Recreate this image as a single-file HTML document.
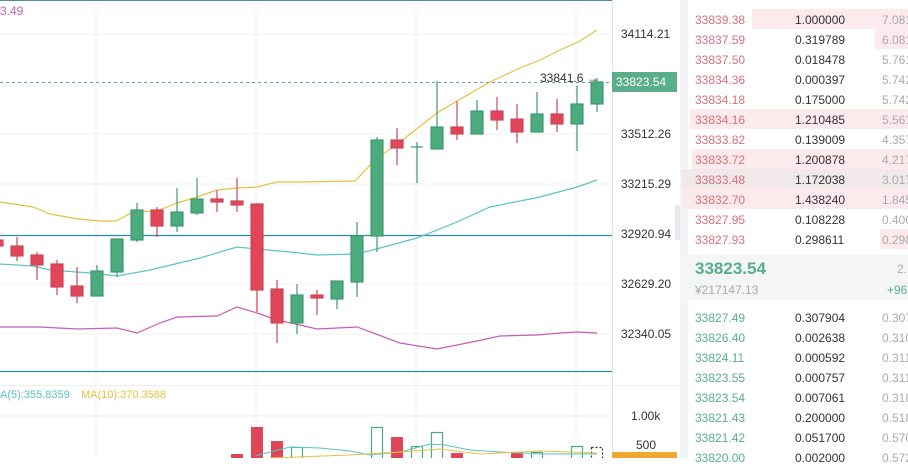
<!DOCTYPE html>
<html><head><meta charset="utf-8"><style>
body{margin:0;width:908px;height:458px;overflow:hidden;background:#fff;font-family:"Liberation Sans",sans-serif;position:relative}
.t{position:absolute;font-size:12px;white-space:nowrap}
.r{color:#d9707c}.g{color:#5aae8a}.k{color:#333}.l{color:#aaa}
</style></head><body>
<svg width="908" height="458" style="position:absolute;left:0;top:0">
<g stroke="#f0f0f0" stroke-width="1">
<line x1="96" y1="0" x2="96" y2="458"/><line x1="256" y1="0" x2="256" y2="458"/><line x1="416" y1="0" x2="416" y2="458"/><line x1="576" y1="0" x2="576" y2="458"/>
<line x1="0" y1="34" x2="612" y2="34"/><line x1="0" y1="134" x2="612" y2="134"/><line x1="0" y1="184" x2="612" y2="184"/><line x1="0" y1="284" x2="612" y2="284"/><line x1="0" y1="334" x2="612" y2="334"/><line x1="0" y1="416" x2="612" y2="416"/>
</g>
<line x1="0" y1="0.5" x2="612" y2="0.5" stroke="#4a8fa6"/>
<line x1="0" y1="235.5" x2="612" y2="235.5" stroke="#2a8aa8" stroke-width="1.2"/>
<line x1="0" y1="371.5" x2="612" y2="371.5" stroke="#2a8aa8" stroke-width="1.2"/>
<line x1="0" y1="385.5" x2="680" y2="385.5" stroke="#eee"/>
<line x1="612.5" y1="0" x2="612.5" y2="458" stroke="#e6e6e6"/>
<line x1="0" y1="82.5" x2="612" y2="82.5" stroke="#6a9aa8" stroke-dasharray="3,3"/>
<rect x="680" y="0" width="8" height="458" fill="#f2f4f6"/>
<polyline fill="none" stroke="#e8c040" stroke-width="1.2" points="0,202 33,207 50,214 78,219 100,221 116,221 133,212 157,211 177,203 197,197 217,190 237,188 257,187 277,182 300,182 355,181 375,160 400,142 437,113 457,101 490,82 520,68 540,60 560,50 580,41 597,30"/>
<polyline fill="none" stroke="#5cc4c4" stroke-width="1.2" points="0,264 33,266 50,270 90,273 117,276 150,270 200,258 237,247 257,249 290,252 317,255 357,254 380,248 417,238 457,222 490,207 540,197 577,187 597,180"/>
<polyline fill="none" stroke="#c85cb8" stroke-width="1.2" points="0,327 40,327 77,329 117,328 137,333 160,323 177,317 217,316 237,307 257,313 277,320 300,325 317,329 357,327 400,343 437,349 477,341 500,336 537,335 560,333 577,332 597,333"/>
<g stroke-width="1.2">
<g fill="#e04657" stroke="#c94a5a">
<line x1="-3" y1="238" x2="-3" y2="248"/><rect x="-9" y="240" width="12" height="6"/>
<line x1="17" y1="237" x2="17" y2="261"/><rect x="11" y="246" width="12" height="10"/>
<line x1="37" y1="252" x2="37" y2="280"/><rect x="31" y="255" width="12" height="10"/>
<line x1="57" y1="260" x2="57" y2="295"/><rect x="51" y="264" width="12" height="23"/>
<line x1="77" y1="267" x2="77" y2="303"/><rect x="71" y="286" width="12" height="10"/>
<line x1="157" y1="207" x2="157" y2="237"/><rect x="151" y="210" width="12" height="16"/>
<line x1="217" y1="190" x2="217" y2="212"/><rect x="211" y="199" width="12" height="3"/>
<line x1="237" y1="178" x2="237" y2="212"/><rect x="231" y="201" width="12" height="4"/>
<line x1="257" y1="203" x2="257" y2="312"/><rect x="251" y="204" width="12" height="86"/>
<line x1="277" y1="280" x2="277" y2="343"/><rect x="271" y="289" width="12" height="34"/>
<line x1="317" y1="290" x2="317" y2="315"/><rect x="311" y="295" width="12" height="3"/>
<line x1="397" y1="128" x2="397" y2="165"/><rect x="391" y="140" width="12" height="8"/>
<line x1="457" y1="101" x2="457" y2="140"/><rect x="451" y="127" width="12" height="7"/>
<line x1="497" y1="97" x2="497" y2="130"/><rect x="491" y="111" width="12" height="9"/>
<line x1="517" y1="104" x2="517" y2="143"/><rect x="511" y="119" width="12" height="13"/>
<line x1="557" y1="99" x2="557" y2="132"/><rect x="551" y="114" width="12" height="10"/>
</g>
<g fill="#4caa7f" stroke="#3f9a70">
<line x1="97" y1="265" x2="97" y2="296"/><rect x="91" y="271" width="12" height="25"/>
<line x1="117" y1="239" x2="117" y2="277"/><rect x="111" y="239" width="12" height="33"/>
<line x1="137" y1="203" x2="137" y2="242"/><rect x="131" y="210" width="12" height="30"/>
<line x1="177" y1="188" x2="177" y2="232"/><rect x="171" y="212" width="12" height="14"/>
<line x1="197" y1="178" x2="197" y2="215"/><rect x="191" y="199" width="12" height="14"/>
<line x1="297" y1="284" x2="297" y2="334"/><rect x="291" y="295" width="12" height="28"/>
<line x1="337" y1="281" x2="337" y2="309"/><rect x="331" y="281" width="12" height="18"/>
<line x1="357" y1="222" x2="357" y2="297"/><rect x="351" y="236" width="12" height="46"/>
<line x1="377" y1="137" x2="377" y2="252"/><rect x="371" y="140" width="12" height="96"/>
<line x1="417" y1="142" x2="417" y2="183"/><line x1="411" y1="147" x2="423" y2="147"/>
<line x1="437" y1="81" x2="437" y2="149"/><rect x="431" y="127" width="12" height="22"/>
<line x1="477" y1="100" x2="477" y2="134"/><rect x="471" y="111" width="12" height="23"/>
<line x1="537" y1="92" x2="537" y2="132"/><rect x="531" y="114" width="12" height="18"/>
<line x1="577" y1="86" x2="577" y2="151"/><rect x="571" y="104" width="12" height="20"/>
<line x1="597" y1="78" x2="597" y2="112"/><rect x="591" y="82" width="12" height="22"/>
</g>
<g fill="#e04657"><rect x="231" y="454" width="12" height="4"/><rect x="251" y="427" width="12" height="31"/><rect x="271" y="441" width="12" height="17"/><rect x="391" y="437" width="12" height="21"/><rect x="451" y="453" width="12" height="5"/><rect x="511" y="452" width="12" height="6"/></g>
<g fill="none" stroke="#4caa7f"><rect x="291.5" y="447.5" width="11" height="12"/><rect x="371.5" y="427.5" width="11" height="32"/><rect x="411.5" y="446.5" width="11" height="13"/><rect x="431.5" y="432.5" width="11" height="27"/><rect x="531.5" y="452.5" width="11" height="7"/><rect x="571.5" y="446.5" width="11" height="13"/><rect x="591.5" y="447.5" width="11" height="12" stroke-dasharray="2,2" stroke="#333"/></g>
</g>
<polyline fill="none" stroke="#5cc4c4" points="255,456 290,447 320,448 350,451 370,455 400,452 430,444 445,445 470,450 500,452 540,454 597,454"/>
<polyline fill="none" stroke="#e8c040" points="270,458 350,455 400,452 440,449 480,454 540,451 597,453"/>
<rect x="612" y="72" width="65" height="20" fill="#5aae8a"/>
<rect x="612" y="452" width="65" height="6" fill="#f0a830"/>
<rect x="752" y="9" width="156" height="20" fill="#fdeaec"/>
<rect x="875" y="29" width="33" height="20" fill="#fdeaec"/>
<rect x="690" y="109" width="218" height="20" fill="#fdeaec"/>
<rect x="692" y="149" width="216" height="20" fill="#fdeaec"/>
<rect x="682" y="169" width="226" height="20" fill="#f1e8e9"/>
<rect x="682" y="189" width="226" height="20" fill="#fdeaec"/>
<rect x="880" y="229" width="28" height="20" fill="#fdeaec"/>
<rect x="682" y="255" width="226" height="45" fill="#f3f5f7"/>
<rect x="675" y="205" width="5" height="35" fill="#e8eaed"/>
</svg>
<div class="t" style="left:0;top:4px;color:#c060c0">3.49</div>
<div class="t k" style="left:540px;top:71px">33841.6 →</div>
<div class="t" style="left:616px;top:75px;color:#fff">33823.54</div>
<div class="t k" style="left:621px;top:27px">34114.21</div>
<div class="t k" style="left:621px;top:127px">33512.26</div>
<div class="t k" style="left:621px;top:177px">33215.29</div>
<div class="t k" style="left:621px;top:227px">32920.94</div>
<div class="t k" style="left:621px;top:277px">32629.20</div>
<div class="t k" style="left:621px;top:327px">32340.05</div>
<div class="t k" style="left:631px;top:409px">1.00k</div>
<div class="t k" style="left:636px;top:438px">500</div>
<div class="t" style="left:0;top:389px;font-size:11px;color:#5cc4c4">A(5):355.8359</div>
<div class="t" style="left:81px;top:389px;font-size:11px;color:#e8c040">MA(10):370.3588</div>
<div class="t r" style="left:695px;top:10px;line-height:20px">33839.38<br>33837.59<br>33837.50<br>33834.36<br>33834.18<br>33834.16<br>33833.82<br>33833.72<br>33833.48<br>33832.70<br>33827.95<br>33827.93</div>
<div class="t k" style="left:795px;top:10px;line-height:20px">1.000000<br>0.319789<br>0.018478<br>0.000397<br>0.175000<br>1.210485<br>0.139009<br>1.200878<br>1.172038<br>1.438240<br>0.108228<br>0.298611</div>
<div class="t l" style="left:882px;top:10px;line-height:20px">7.081<br>6.081<br>5.761<br>5.742<br>5.742<br>5.561<br>4.357<br>4.217<br>3.017<br>1.845<br>0.400<br>0.298</div>
<div class="t g" style="left:695px;top:259px;font-size:17px;font-weight:bold">33823.54</div>
<div class="t l" style="left:695px;top:283px">¥217147.13</div>
<div class="t l" style="left:897px;top:262px">2.</div>
<div class="t g" style="left:887px;top:283px">+96</div>
<div class="t g" style="left:695px;top:308px;line-height:20px">33827.49<br>33826.40<br>33824.11<br>33823.55<br>33823.54<br>33821.43<br>33821.42<br>33820.00</div>
<div class="t k" style="left:795px;top:308px;line-height:20px">0.307904<br>0.002638<br>0.000592<br>0.000757<br>0.007061<br>0.200000<br>0.051700<br>0.002000</div>
<div class="t l" style="left:882px;top:308px;line-height:20px">0.307<br>0.310<br>0.311<br>0.311<br>0.318<br>0.518<br>0.570<br>0.572</div>
</body></html>
